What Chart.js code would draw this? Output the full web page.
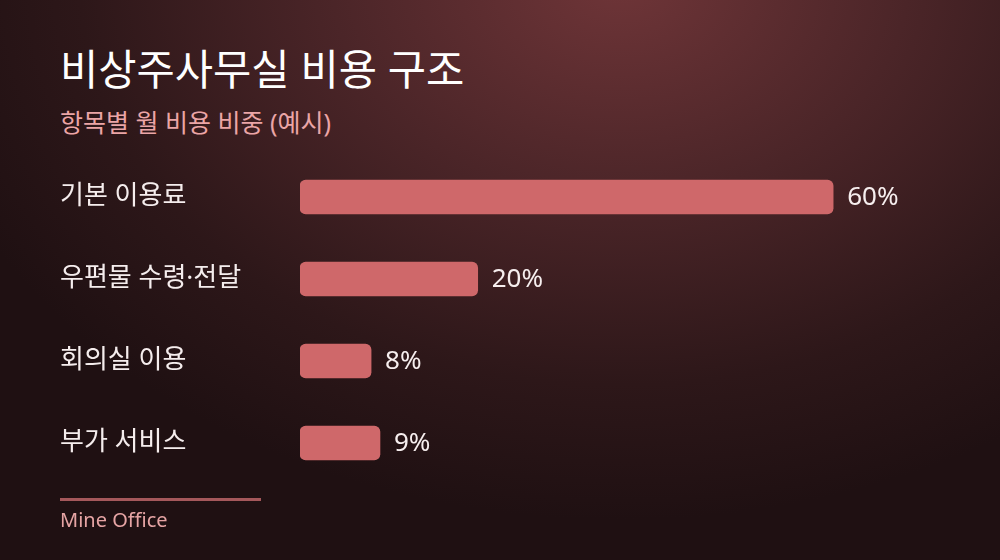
<!DOCTYPE html>
<html lang="ko">
<head>
<meta charset="utf-8">
<title>비상주사무실 비용 구조</title>
<script src="https://cdn.jsdelivr.net/npm/chart.js@4.4.1/dist/chart.umd.min.js"></script>
<style>
    html, body {
        margin: 0;
        padding: 0;
    }
    body {
        width: 1000px;
        height: 560px;
        overflow: hidden;
        position: relative;
        font-family: "Noto Sans", "Noto Sans CJK KR", sans-serif;
        background: radial-gradient(ellipse 720px 540px at 620px -20px, #6f3538 0%, #4b2528 40%, #2d1719 75%, #1f1012 100%);
        background-color: #1f1012;
    }
    #title {
        position: absolute;
        left: 60px;
        top: 45px;
        margin: 0;
        font-size: 41.6px;
        font-weight: 400;
        color: #ffffff;
        line-height: 1.2;
    }
    #subtitle {
        position: absolute;
        left: 60px;
        top: 107px;
        margin: 0;
        font-size: 25px;
        font-weight: 400;
        color: #eba5a6;
        line-height: 1.2;
    }
    #rule {
        position: absolute;
        left: 60px;
        top: 498px;
        width: 201px;
        height: 3px;
        background: #a5585b;
    }
    #source {
        position: absolute;
        left: 60px;
        top: 508px;
        font-size: 20px;
        color: #e6a4a4;
        line-height: 1.2;
    }
    .chart-box {
        position: absolute;
        left: 0;
        top: 0;
        width: 1000px;
        height: 560px;
    }
</style>
</head>
<body>
<h1 id="title">비상주사무실 비용 구조</h1>
<p id="subtitle">항목별 월 비용 비중 (예시)</p>
<div class="chart-box"><canvas id="costChart"></canvas></div>
<div id="rule"></div>
<div id="source">Mine Office</div>

<script>
    const categories = ['기본 이용료', '우편물 수령·전달', '회의실 이용', '부가 서비스'];
    const shares = [60, 20, 8, 9];

    // percent text right after each bar end
    const valueLabels = {
        id: 'valueLabels',
        afterDatasetsDraw(chart) {
            const ctx = chart.ctx;
            const meta = chart.getDatasetMeta(0);
            ctx.save();
            ctx.font = '400 26px "Noto Sans", "Noto Sans CJK KR", sans-serif';
            ctx.fillStyle = '#f6eeee';
            ctx.textAlign = 'left';
            ctx.textBaseline = 'middle';
            meta.data.forEach(function(bar, i) {
                ctx.fillText(shares[i] + '%', bar.x + 14, bar.y + 1);
            });
            ctx.restore();
        }
    };

    const ctx = document.getElementById('costChart').getContext('2d');

    new Chart(ctx, {
        type: 'bar',
        data: {
            labels: categories,
            datasets: [{
                label: '비용 비중',
                data: shares,
                backgroundColor: '#cf686a',
                borderWidth: 0,
                borderRadius: 6,
                borderSkipped: false,
                barThickness: 34
            }]
        },
        options: {
            indexAxis: 'y',
            responsive: true,
            maintainAspectRatio: false,
            animation: false,
            layout: {
                padding: { left: 60, right: 78, top: 156, bottom: 76 }
            },
            scales: {
                x: {
                    display: false,
                    min: 0,
                    max: 70
                },
                y: {
                    grid: { display: false },
                    border: { display: false },
                    afterFit: function(scale) {
                        scale.width = 240;
                    },
                    ticks: {
                        crossAlign: 'far',
                        padding: 0,
                        color: '#f5eded',
                        font: {
                            family: '"Noto Sans", "Noto Sans CJK KR", sans-serif',
                            size: 26
                        }
                    }
                }
            },
            plugins: {
                legend: { display: false },
                tooltip: { enabled: false }
            }
        },
        plugins: [valueLabels]
    });
</script>
</body>
</html>
